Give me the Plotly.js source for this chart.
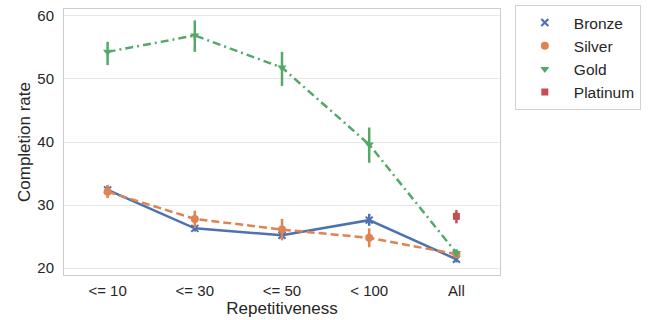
<!DOCTYPE html>
<html>
<head>
<meta charset="utf-8">
<script src="https://cdn.plot.ly/plotly-3.0.1.min.js"></script>
<style>html,body{margin:0;padding:0;background:#fff;}#chart{width:649px;height:320px;}</style>
</head>
<body>
<div id="chart"></div>
<script>
const categories = ["<= 10", "<= 30", "<= 50", "< 100", "All"];

const bronzeMean = [32.4, 26.3, 25.2, 27.6, 21.4];
const bronzeLow  = [31.8, 25.8, 24.6, 26.7, 20.9];
const bronzeHigh = [33.0, 26.8, 25.8, 28.6, 21.9];

const silverMean = [32.1, 27.8, 26.1, 24.8, 22.2];
const silverLow  = [31.1, 26.4, 24.4, 23.3, 21.6];
const silverHigh = [33.2, 29.1, 27.8, 26.3, 22.8];

const goldMean = [54.3, 56.9, 51.8, 39.6, 22.4];
const goldLow  = [52.2, 54.3, 48.9, 36.7, 21.8];
const goldHigh = [55.9, 59.3, 54.3, 42.3, 23.0];

const platCats = ["All"];
const platMean = [28.2];
const platLow  = [27.1];
const platHigh = [29.2];

function mk(name, x, mean, low, high, color, symbol, size, dash, mode) {
  return {
    type: 'scatter', mode: mode, name: name, x: x, y: mean, showlegend: false,
    line: {color: color, width: 2.5, dash: dash},
    marker: {color: color, symbol: symbol, size: size, line: {color: color, width: symbol === 'x-thin' ? 2 : 0}},
    error_y: {type: 'data', symmetric: false,
      array: high.map((h, i) => h - mean[i]),
      arrayminus: mean.map((m, i) => m - low[i]),
      color: color, thickness: 2.5, width: 0}
  };
}
function leg(name, color, symbol, size) {
  return {type: 'scatter', mode: 'markers', name: name, x: [null], y: [null],
    marker: {color: color, symbol: symbol, size: size, line: {color: color, width: symbol === 'x-thin' ? 2.2 : 0}}};
}

const traces = [
  mk('Bronze', categories, bronzeMean, bronzeLow, bronzeHigh, '#4c72b0', 'x-thin', 7, 'solid', 'lines+markers'),
  mk('Silver', categories, silverMean, silverLow, silverHigh, '#dd8452', 'circle', 8, '8px,4px', 'lines+markers'),
  mk('Gold', categories, goldMean, goldLow, goldHigh, '#55a868', 'triangle-down', 8, '8px,4px,2px,4px', 'lines+markers'),
  mk('Platinum', platCats, platMean, platLow, platHigh, '#c44e52', 'square', 7, 'solid', 'markers'),
  leg('Bronze', '#4c72b0', 'x-thin', 7),
  leg('Silver', '#dd8452', 'circle', 8),
  leg('Gold', '#55a868', 'triangle-down', 8),
  leg('Platinum', '#c44e52', 'square', 7)
];

const layout = {
  width: 649, height: 320,
  margin: {l: 64, r: 149, t: 9, b: 45, autoexpand: false},
  paper_bgcolor: '#fff', plot_bgcolor: '#fff',
  font: {family: 'Liberation Sans, Arial, sans-serif', size: 15, color: '#262626'},
  showlegend: true,
  legend: {x: 1.034, y: 1.015, xanchor: 'left', yanchor: 'top',
    bordercolor: '#d0d0d0', borderwidth: 1, font: {size: 15.5, color: '#262626'},
    tracegroupgap: 0, itemwidth: 48},
  xaxis: {
    type: 'category', categoryorder: 'array', categoryarray: categories,
    range: [-0.5, 4.5], showgrid: false, zeroline: false,
    showline: true, linecolor: '#cccccc', linewidth: 1, mirror: true,
    ticks: '', ticklabelstandoff: 2, tickfont: {size: 15, color: '#262626'},
    title: {text: 'Repetitiveness', font: {size: 17, color: '#262626'}, standoff: 2}
  },
  yaxis: {
    range: [18.9, 61.1], tickvals: [20, 30, 40, 50, 60],
    showgrid: true, gridcolor: '#e6e6e6', gridwidth: 1, zeroline: false,
    showline: true, linecolor: '#cccccc', linewidth: 1, mirror: true,
    ticks: '', ticklabelstandoff: 6, tickfont: {size: 15, color: '#262626'},
    title: {text: 'Completion rate', font: {size: 17, color: '#262626'}, standoff: 2}
  }
};

Plotly.newPlot('chart', traces, layout, {displayModeBar: false, staticPlot: true});
</script>
</body>
</html>
